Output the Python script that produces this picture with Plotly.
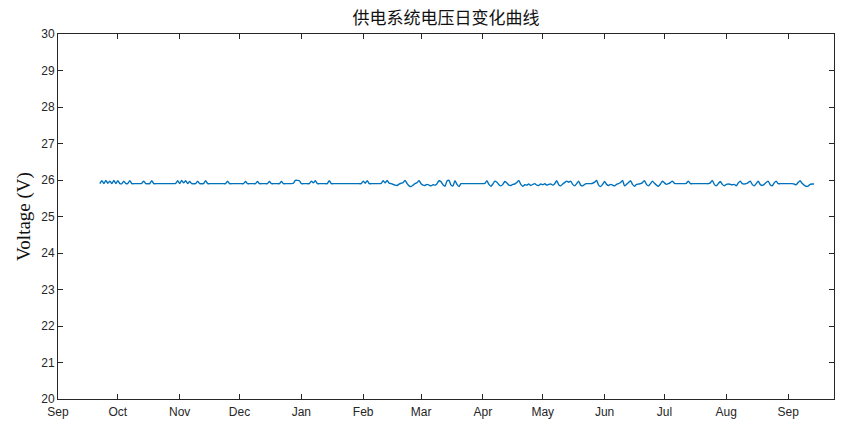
import pandas as pd
import plotly.graph_objects as go

# Daily voltage readings (V), one list per month
sep19 = [25.90, 25.98, 25.90, 25.99, 25.91, 25.97, 25.90, 25.99, 25.90]  # from Sep 22
oct19 = [25.98, 25.90, 25.90, 25.97, 25.90, 25.91, 25.98, 25.90, 25.90, 25.90,
         25.90, 25.90, 25.91, 25.97, 25.90, 25.90, 25.90, 25.98, 25.90, 25.90,
         25.90, 25.90, 25.90, 25.90, 25.90, 25.90, 25.90, 25.90, 25.90, 25.91, 25.98]
nov19 = [25.90, 25.99, 25.92, 25.98, 25.90, 25.96, 25.90, 25.90, 25.90, 25.97,
         25.90, 25.90, 25.90, 25.98, 25.90, 25.90, 25.90, 25.90, 25.90, 25.90,
         25.90, 25.90, 25.90, 25.90, 25.97, 25.90, 25.90, 25.90, 25.90, 25.90]
dec19 = [25.90, 25.90, 25.90, 25.96, 25.90, 25.90, 25.90, 25.90, 25.90, 25.96,
         25.90, 25.90, 25.90, 25.90, 25.90, 25.96, 25.90, 25.90, 25.90, 25.90,
         25.90, 25.96, 25.90, 25.90, 25.90, 25.90, 25.90, 25.91, 25.99, 25.99, 25.98]
jan20 = [25.90, 25.90, 25.90, 25.90, 25.90, 25.97, 25.92, 25.98, 25.90, 25.90,
         25.90, 25.90, 25.90, 25.90, 25.98, 25.90, 25.90, 25.90, 25.90, 25.90,
         25.90, 25.90, 25.90, 25.90, 25.90, 25.90, 25.90, 25.90, 25.90, 25.90, 25.90]
feb20 = [25.97, 25.91, 25.98, 25.90, 25.90, 25.90, 25.90, 25.90, 25.90, 25.91,
         25.98, 25.92, 25.99, 25.91, 25.90, 25.88, 25.86, 25.85, 25.89, 25.91,
         25.93, 25.99, 25.90, 25.84, 25.82, 25.86, 25.90, 25.93, 25.98]
mar20 = [25.90, 25.86, 25.85, 25.88, 25.86, 25.84, 25.87, 25.86, 25.90, 25.98,
         25.95, 25.87, 25.83, 25.97, 25.99, 25.86, 25.84, 25.98, 25.88, 25.82,
         25.90, 25.90, 25.90, 25.90, 25.90, 25.90, 25.90, 25.90, 25.90, 25.90, 25.90]
apr20 = [25.90, 25.91, 25.98, 25.88, 25.83, 25.89, 25.97, 25.94, 25.87, 25.84,
         25.88, 25.96, 25.92, 25.86, 25.85, 25.88, 25.89, 25.93, 25.99, 25.88,
         25.83, 25.87, 25.86, 25.89, 25.85, 25.88, 25.90, 25.86, 25.85, 25.89]
may20 = [25.87, 25.90, 25.86, 25.88, 25.89, 25.86, 25.90, 25.98, 25.87, 25.84,
         25.89, 25.93, 25.97, 25.94, 25.97, 25.88, 25.84, 25.90, 25.97, 25.86,
         25.84, 25.88, 25.90, 25.90, 25.90, 25.91, 25.94, 25.99, 25.86, 25.82, 25.88]
jun20 = [25.96, 25.88, 25.85, 25.88, 25.86, 25.84, 25.88, 25.90, 25.93, 25.99,
         25.84, 25.88, 25.93, 25.98, 25.88, 25.83, 25.88, 25.89, 25.90, 25.93,
         25.98, 25.88, 25.84, 25.90, 25.97, 25.91, 25.86, 25.83, 25.89, 25.97]
jul20 = [25.92, 25.88, 25.90, 25.93, 25.97, 25.91, 25.90, 25.90, 25.90, 25.90,
         25.90, 25.91, 25.97, 25.90, 25.90, 25.90, 25.90, 25.90, 25.90, 25.90,
         25.90, 25.90, 25.90, 25.92, 25.99, 25.88, 25.84, 25.90, 25.96, 25.88, 25.84]
aug20 = [25.88, 25.89, 25.88, 25.87, 25.88, 25.84, 25.92, 25.97, 25.90, 25.89,
         25.90, 25.93, 25.97, 25.88, 25.84, 25.90, 25.97, 25.88, 25.85, 25.88,
         25.93, 25.97, 25.87, 25.84, 25.92, 25.97, 25.90, 25.90, 25.90, 25.90, 25.90]
sep20 = [25.90, 25.90, 25.90, 25.89, 25.87, 25.93, 25.98, 25.91, 25.86, 25.83,
         25.83, 25.88, 25.89, 25.89]

month_series = [
    ("2019-09-22", sep19), ("2019-10-01", oct19), ("2019-11-01", nov19),
    ("2019-12-01", dec19), ("2020-01-01", jan20), ("2020-02-01", feb20),
    ("2020-03-01", mar20), ("2020-04-01", apr20), ("2020-05-01", may20),
    ("2020-06-01", jun20), ("2020-07-01", jul20), ("2020-08-01", aug20),
    ("2020-09-01", sep20),
]

tick_dates = ["2019-09-01", "2019-10-01", "2019-11-01", "2019-12-01", "2020-01-01",
              "2020-02-01", "2020-03-01", "2020-04-01", "2020-05-01", "2020-06-01",
              "2020-07-01", "2020-08-01", "2020-09-01"]
tick_labels = ["Sep", "Oct", "Nov", "Dec", "Jan", "Feb", "Mar", "Apr", "May",
               "Jun", "Jul", "Aug", "Sep"]
y_ticks = list(range(20, 31))

dates = []
volts = []
for start, vals in month_series:
    dates.extend(pd.date_range(start, periods=len(vals), freq="D"))
    volts.extend(vals)

fig = go.Figure()
fig.add_trace(go.Scatter(x=dates, y=volts, mode="lines",
                         line=dict(color="#0072BD", width=1.4, shape="spline",
                                   smoothing=0.6),
                         showlegend=False))

axis_common = dict(showline=True, linecolor="#262626", linewidth=1, mirror="ticks",
                   ticks="inside", ticklen=5, tickcolor="#262626", showgrid=False,
                   zeroline=False, automargin=False,
                   tickfont=dict(family="Liberation Sans, Arial", size=12, color="#262626"))

fig.update_layout(
    width=848, height=430,
    margin=dict(l=58, r=14, t=34, b=31, autoexpand=False),
    paper_bgcolor="white", plot_bgcolor="white",
    title=dict(text="供电系统电压日变化曲线", x=0.526, xanchor="center",
               y=1 - 18 / 430, yanchor="middle", yref="container", automargin=False,
               font=dict(family="Noto Sans CJK SC", size=17, color="#111111")),
    xaxis=dict(range=["2019-09-01", "2020-09-24"], tickvals=tick_dates,
               ticktext=tick_labels, ticklabelstandoff=2, **axis_common),
    yaxis=dict(range=[20, 30], tickvals=y_ticks,
               title=dict(text="Voltage (V)", standoff=5,
                          font=dict(family="Liberation Serif, Times New Roman",
                                    size=19, color="#111111")),
               **axis_common),
)

fig.write_html("out.html", config={"displayModeBar": False},
               post_script="document.body.style.margin='0';document.body.style.overflow='hidden';")
